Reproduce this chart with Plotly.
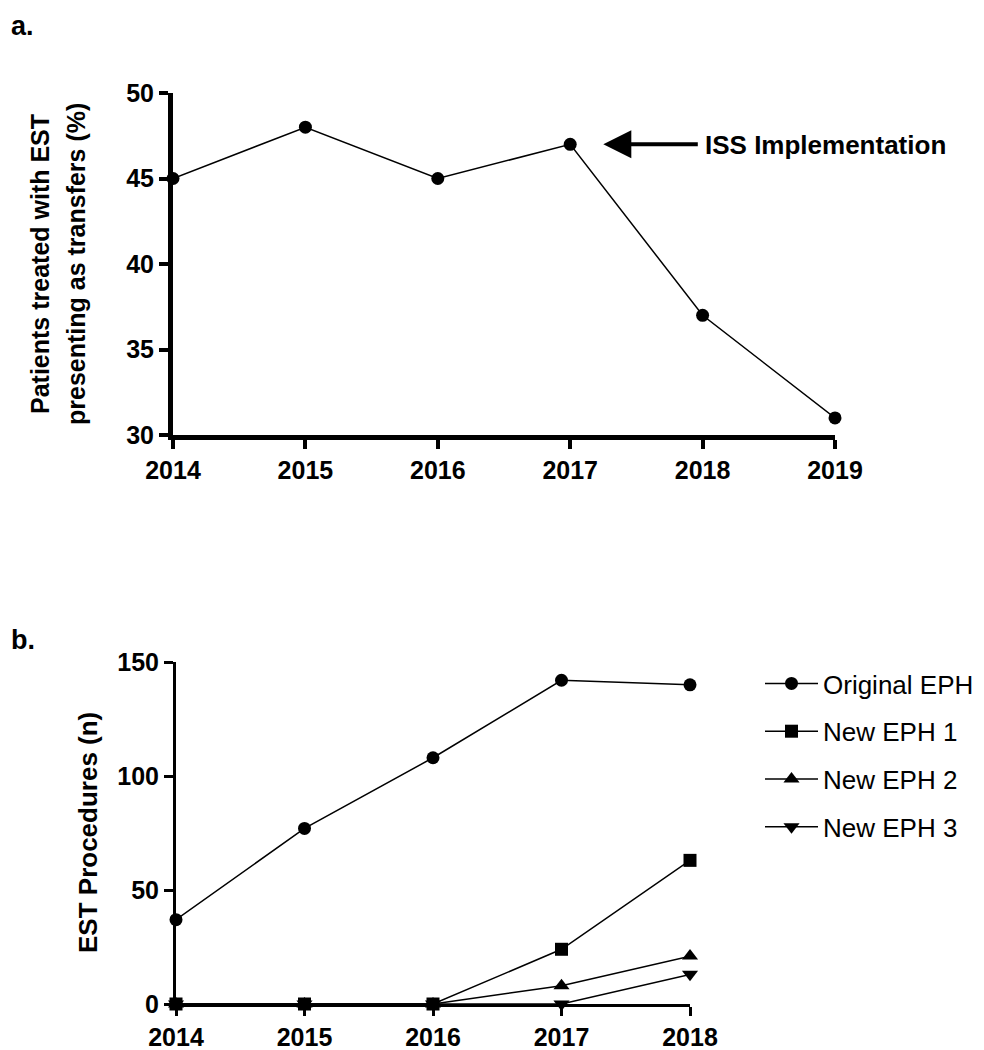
import plotly.graph_objects as go

# Panel a
years_a = [2014, 2015, 2016, 2017, 2018, 2019]
transfer_pct = [45, 48, 45, 47, 37, 31]
y_ticks_a = [30, 35, 40, 45, 50]

# Panel b
years_b = [2014, 2015, 2016, 2017, 2018]
original_eph = [37, 77, 108, 142, 140]
new_eph1 = [0, 0, 0, 24, 63]
new_eph2 = [0, 0, 0, 8, 21]
new_eph3 = [0, 0, 0, 0, 13]
y_ticks_b = [0, 50, 100, 150]

OFF = 8  # page body margin
W, H = 984 - OFF, 1050 - OFF
BOLD = "Liberation Sans"

def px_x(p):
    return (p - OFF) / W

def px_y(p):
    return 1 - (p - OFF) / H

fig = go.Figure()

fig.add_trace(go.Scatter(
    x=years_a, y=transfer_pct, mode="lines+markers",
    line=dict(color="black", width=1.5),
    marker=dict(symbol="circle", size=13, color="black"),
    cliponaxis=False, showlegend=False, xaxis="x", yaxis="y"))

series = [
    ("Original EPH", original_eph, "circle", 13),
    ("New EPH 1", new_eph1, "square", 13),
    ("New EPH 2", new_eph2, "triangle-up", 14),
    ("New EPH 3", new_eph3, "triangle-down", 14),
]
for i, (name, vals, sym, sz) in enumerate(series):
    fig.add_trace(go.Scatter(
        x=years_b, y=vals, mode="lines+markers", name=name,
        line=dict(color="black", width=1.5),
        marker=dict(symbol=sym, size=sz, color="black"),
        cliponaxis=False, legendgroup="g%d" % i, xaxis="x2", yaxis="y2"))

axis_common = dict(showgrid=False, zeroline=False, showline=True, linecolor="black",
                   ticks="outside", tickcolor="black", ticklen=9,
                   tickfont=dict(family=BOLD, size=25, color="black", weight="bold"))

fig.update_layout(
    width=W, height=H, margin=dict(l=0, r=0, t=0, b=0, autoexpand=False),
    paper_bgcolor="white", plot_bgcolor="white",
    xaxis=dict(domain=[px_x(173), px_x(835)], range=[2014, 2019], anchor="y",
               tickvals=years_a, linewidth=5, tickwidth=4, **axis_common),
    yaxis=dict(domain=[px_y(435), px_y(93)], range=[30, 50], anchor="x",
               tickvals=y_ticks_a, linewidth=5, tickwidth=4, **axis_common),
    xaxis2=dict(domain=[px_x(176), px_x(690)], range=[2014, 2018], anchor="y2",
                tickvals=years_b, linewidth=3, tickwidth=3, **axis_common),
    yaxis2=dict(domain=[px_y(1004), px_y(662)], range=[0, 150], anchor="x2",
                tickvals=y_ticks_b, linewidth=3, tickwidth=3, **axis_common),
    legend=dict(x=px_x(760), y=px_y(660), xanchor="left", yanchor="top",
                font=dict(family="Liberation Sans", size=26, color="black"),
                tracegroupgap=11, itemwidth=53, bgcolor="rgba(0,0,0,0)"),
    showlegend=True,
)

annotations = [
    dict(text="<b>a.</b>", x=px_x(9), y=px_y(9), xref="paper", yref="paper",
         xanchor="left", yanchor="top", showarrow=False,
         font=dict(family=BOLD, size=27, color="black")),
    dict(text="<b>b.</b>", x=px_x(9), y=px_y(640), xref="paper", yref="paper",
         xanchor="left", yanchor="middle", showarrow=False,
         font=dict(family=BOLD, size=27, color="black")),
    dict(text="<b>Patients treated with EST</b>",
         x=px_x(40), y=(px_y(435) + px_y(93)) / 2, xref="paper", yref="paper",
         textangle=-90, xanchor="center", yanchor="middle", showarrow=False,
         font=dict(family=BOLD, size=25, color="black")),
    dict(text="<b>presenting as transfers (%)</b>",
         x=px_x(76), y=(px_y(435) + px_y(93)) / 2, xref="paper", yref="paper",
         textangle=-90, xanchor="center", yanchor="middle", showarrow=False,
         font=dict(family=BOLD, size=25, color="black")),
    dict(text="<b>EST Procedures (n)</b>",
         x=px_x(88), y=(px_y(1004) + px_y(662)) / 2, xref="paper", yref="paper",
         textangle=-90, xanchor="center", yanchor="middle", showarrow=False,
         font=dict(family=BOLD, size=26, color="black")),
    dict(text="", x=2017.25, y=47, xref="x", yref="y", axref="pixel", ayref="pixel",
         ax=96, ay=0, showarrow=True, arrowhead=2, arrowsize=1.4, arrowwidth=4,
         arrowcolor="black"),
    dict(text="<b>ISS Implementation</b>", x=px_x(703), y=px_y(145), xref="paper", yref="paper",
         xanchor="left", yanchor="middle", showarrow=False,
         font=dict(family=BOLD, size=26, color="black")),
]
fig.update_layout(annotations=annotations)

fig.write_html("out.html")
